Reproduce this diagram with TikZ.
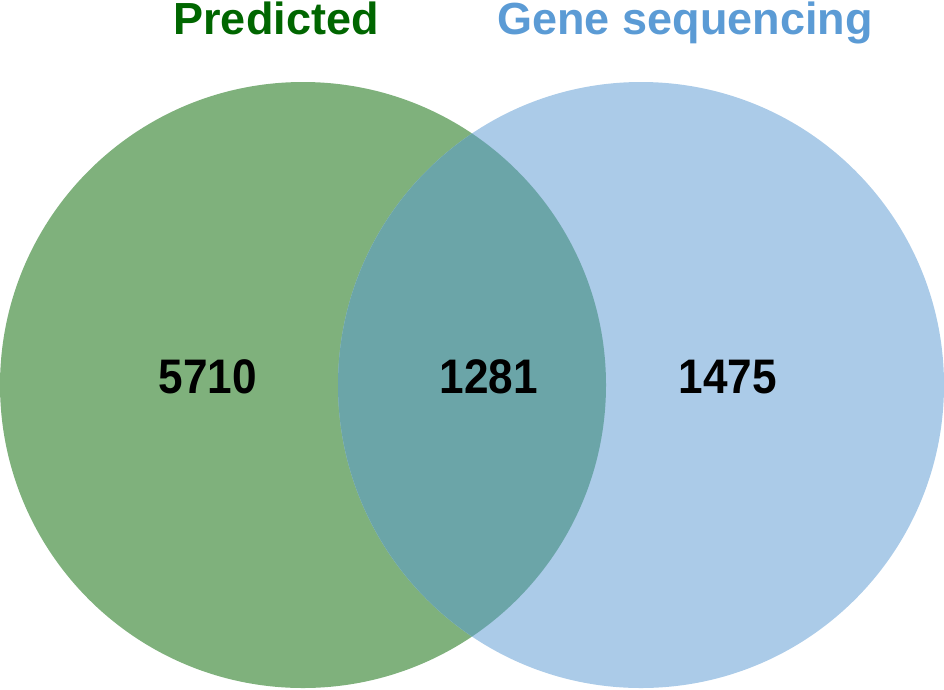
\documentclass[tikz,border=0pt]{standalone}
\usepackage{fontspec}
\setmainfont{Liberation Sans}
\definecolor{predfill}{HTML}{7FB17C}
\definecolor{seqfill}{HTML}{ABCBE8}
\definecolor{bothfill}{HTML}{6BA5A8}
\definecolor{predtext}{HTML}{006600}
\definecolor{seqtext}{HTML}{5B9BD5}
\begin{document}
\begin{tikzpicture}[x=1pt,y=-1pt,
    count/.style={font=\fontsize{48.5}{48.5}\selectfont\bfseries, anchor=base, xscale=0.91},
    title/.style={font=\fontsize{45}{45}\selectfont\bfseries, anchor=base, inner sep=0pt}]
      \useasboundingbox (0,0) rectangle (944,689);
      \coordinate (pred) at (303,385);
      \coordinate (seq) at (641,385);
      \fill[predfill] (pred) circle (303);
      \fill[seqfill] (seq) circle (303);
      \begin{scope}
        \clip (pred) circle (303);
        \fill[bothfill] (seq) circle (303);
      \end{scope}
      \draw
        (276,34) node[title, text=predtext] (predicted){Predicted}
        (685,34) node[title, text=seqtext] (sequencing){Gene sequencing}
        (208,393) node[count] (onlypred){5710}
        (489,393) node[count] (both){1281}
        (728,393) node[count] (onlyseq){1475};
    \end{tikzpicture}
\end{document}
